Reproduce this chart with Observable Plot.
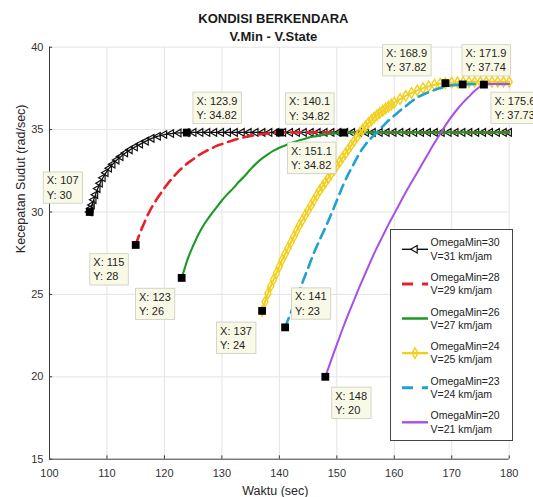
<!DOCTYPE html>
<html><head><meta charset="utf-8">
<script src="https://cdn.jsdelivr.net/npm/d3@7"></script>
<script src="https://cdn.jsdelivr.net/npm/@observablehq/plot@0.6"></script>
<style>html,body{margin:0;padding:0;background:#fff;} #chart{width:533px;height:497px;}</style>
</head><body><div id="chart"></div>
<script>
// ---------- data ----------
const xTicks = [100,110,120,130,140,150,160,170,180];
const yTicks = [15,20,25,30,35,40];
const titleLines = ["KONDISI BERKENDARA", "V.Min - V.State"];
const xLabel = "Waktu (sec)";
const yLabel = "Kecepatan Sudut (rad/sec)";
const legendLine1 = ["OmegaMin=30","OmegaMin=28","OmegaMin=26","OmegaMin=24","OmegaMin=23","OmegaMin=20"];
const legendLine2 = ["V=31 km/jam","V=29 km/jam","V=27 km/jam","V=25 km/jam","V=24 km/jam","V=21 km/jam"];

const s30x = [107,107.2,107.4,107.7,108,108.4,108.8,109.3,109.8,110.4,111,111.7,112.4,113.2,114,114.9,115.8,116.8,117.8,118.9,120,121.2,122.5,123.9,
  125.1,126.3,127.5,128.7,129.9,131.1,132.3,133.5,134.7,135.9,137.1,138.3,139.5,140.7,141.9,143.1,144.3,145.5,146.7,147.9,149.1,150.3,151.5,152.7,153.9,155.1,
  156.3,157.5,158.7,159.9,161.1,162.3,163.5,164.7,165.9,167.1,168.3,169.5,170.7,171.9,173.1,174.3,175.5,176.7,177.9,179.1,180];
const s30y = [30,30.22,30.43,30.74,31.05,31.42,31.75,32.08,32.38,32.66,32.9,33.15,33.36,33.58,33.77,33.95,34.12,34.3,34.47,34.6,34.7,34.76,34.8,34.82,
  34.83,34.83,34.83,34.83,34.83,34.83,34.83,34.83,34.83,34.83,
  34.83,34.83,34.83,34.83,34.83,34.83,34.83,34.83,34.83,34.83,
  34.83,34.83,34.83,34.83,34.83,34.83,34.83,34.83,34.83,34.83,
  34.83,34.83,34.83,34.83,34.83,34.83,34.83,34.83,34.83,34.83,
  34.83,34.83,34.83,34.83,34.83,34.83,34.83];

const s28x = [115,115.5,116,116.5,117,118,119,120,121,122,123,124,125,126,127,128,129,130,131,132,133,134,135,136,137,138,139,140.1,145,150,155,160,165,170,175,180];
const s28y = [28,28.5,28.95,29.35,29.75,30.4,30.95,31.45,31.9,32.3,32.65,32.95,33.2,33.45,33.65,33.83,34.0,34.12,34.25,34.36,34.46,34.55,34.62,34.68,34.73,34.77,34.8,34.82,34.83,34.83,34.83,34.83,34.83,34.83,34.83,34.83];

const s26x = [123,123.5,124,124.5,125,126,127,128,129,130,131,132,133,134,135,136,137,138,139,140,141,142,143,144,145,146,147,148,149,150,151.1,155,160,165,170,175,180];
const s26y = [26,26.55,27.1,27.55,27.95,28.7,29.3,29.8,30.25,30.7,31.1,31.45,31.85,32.2,32.6,32.95,33.25,33.5,33.72,33.9,34.04,34.17,34.3,34.4,34.5,34.58,34.64,34.7,34.75,34.78,34.82,34.83,34.83,34.83,34.83,34.83,34.83];

const s24x = [137,137.5,138,138.5,139,139.5,140,140.5,141,141.5,142,142.5,143,143.5,144,144.5,145,145.5,146,146.5,
  147,147.5,148,148.5,149,149.5,150,150.5,151,151.5,152,152.5,153,153.5,154,154.5,155,155.5,156,156.5,
  157,157.5,158,158.5,159,159.5,160,161,162,163,164,165,166,167,168,168.9,170,171,172,173,174,175,176,177,178,179,180];
const s24y = [24.0,24.55,25.05,25.5,25.9,26.3,26.7,27.1,27.45,27.8,28.15,28.5,28.85,29.2,29.5,29.8,30.1,30.4,30.7,31.0,
  31.3,31.55,31.8,32.05,32.3,32.55,32.8,33.05,33.3,33.55,33.8,34.05,34.3,34.55,34.8,35.0,35.2,35.4,35.57,35.73,
  35.88,36.02,36.15,36.28,36.4,36.52,36.63,36.85,37.05,37.22,37.38,37.52,37.63,37.72,37.78,37.82,37.85,37.87,37.88,37.89,37.9,37.9,37.9,37.9,37.9,37.9,37.9];

const s23x = [141,142,143,144,145,146,147,148,149,150,151,152,153,154,155,156,157,158,159,160,161,162,163,164,165,166,167,168,169,170,171,171.9,173,175,177,180];
const s23y = [23,23.9,24.8,25.7,26.6,27.5,28.3,29.05,29.85,30.7,31.55,32.3,32.95,33.6,34.1,34.5,34.85,35.2,35.55,35.85,36.15,36.42,36.7,36.95,37.12,37.27,37.4,37.52,37.62,37.69,37.72,37.74,37.76,37.77,37.77,37.77];

const s20x = [148,149,150,151,152,153,154,155,156,157,158,159,160,161,162,163,164,165,166,167,168,169,170,171,172,173,174,175,175.6,176.5,178,180];
const s20y = [20,21.0,21.95,22.9,23.8,24.65,25.5,26.3,27.1,27.85,28.55,29.25,29.9,30.55,31.2,31.8,32.4,33.0,33.6,34.2,34.75,35.3,35.8,36.25,36.65,37.0,37.35,37.62,37.73,37.76,37.77,37.77];

const tipX = [107,115,123,137,141,148,123.9,140.1,151.1,168.9,171.9,175.6];
const tipY = [30,28,26,24,23,20,34.82,34.82,34.82,37.82,37.74,37.73];

// ---------- styling / layout ----------
const colors = ["#111111","#e4222b","#1a9a24","#f2cf1d","#21a1cb","#a94ee6"];
const widths = [1.3,2.6,2.1,2,2.6,2];
const dashes = [null,"10,6",null,null,"10,6",null];
const tipOffsets = [[-43,-25],[-42.4,23.8],[-42.7,25.4],[-42,26.3],[9.8,-24.4],[9.9,25.4],[9.6,-25.4],[9.2,-24.6],[-52.2,24.6],[-59.3,-23.4],[2.8,-24.7],[10.5,22.6]];
const FONT = "'Liberation Sans', Arial, Helvetica, sans-serif";

const rows = (xs, ys) => xs.map((x, i) => ({x, y: ys[i]}));
const series = [rows(s30x,s30y), rows(s28x,s28y), rows(s26x,s26y), rows(s24x,s24y), rows(s23x,s23y), rows(s20x,s20y)];
const tips = tipX.map((x, i) => ({x, y: tipY[i], label: `X: ${x}\nY: ${tipY[i]}`}));

const marks = [
  Plot.ruleX(xTicks.slice(1), {stroke: "#e4e4e4", strokeWidth: 1}),
  Plot.ruleY(yTicks.slice(1), {stroke: "#e4e4e4", strokeWidth: 1}),
  Plot.ruleX([xTicks[0]], {stroke: "#3a3a3a", strokeWidth: 1}),
  Plot.ruleY([yTicks[0]], {stroke: "#3a3a3a", strokeWidth: 1}),
  Plot.ruleX(xTicks, {y1: 15, y2: 15.2, stroke: "#3a3a3a"}),
  Plot.ruleY(yTicks, {x1: 100, x2: 100.55, stroke: "#3a3a3a"})
];
series.forEach((d, i) => {
  marks.push(Plot.line(d, {x: "x", y: "y", stroke: colors[i], strokeWidth: widths[i], strokeDasharray: dashes[i], curve: "monotone-x"}));
  if (i === 0) marks.push(Plot.dot(d, {x: "x", y: "y", symbol: "triangle", rotate: -90, r: 2.8, stroke: colors[0], strokeWidth: 1.2, fill: "none"}));
  if (i === 3) marks.push(Plot.dot(d, {x: "x", y: "y", symbol: "diamond", r: 3.2, stroke: colors[3], strokeWidth: 1.4, fill: "none"}));
});
marks.push(Plot.dot(tips, {x: "x", y: "y", symbol: "square", r: 4.4, fill: "#000"}));
tips.forEach((t, i) => {
  marks.push(Plot.text([t], {x: "x", y: "y", text: "label", dx: tipOffsets[i][0], dy: tipOffsets[i][1], textAnchor: "start", lineAnchor: "middle", lineHeight: 1.3, fontSize: 11, fill: "#1e1e1e", ariaDescription: "datatip"}));
});
marks.push(Plot.text([titleLines[0]], {frameAnchor: "top", text: d => d, dx: -6, dy: -28.4, fontWeight: "bold", fontSize: 13, lineAnchor: "middle", fill: "#1a1a1a"}));
marks.push(Plot.text([titleLines[1]], {frameAnchor: "top", text: d => d, dx: -6, dy: -10.7, fontWeight: "bold", fontSize: 13, lineAnchor: "middle", fill: "#1a1a1a"}));
marks.push(Plot.text([xLabel], {frameAnchor: "bottom", text: d => d, dx: -4, dy: 32, fontSize: 12.5, lineAnchor: "middle", fill: "#262626"}));
marks.push(Plot.text([yLabel], {frameAnchor: "left", text: d => d, rotate: -90, dx: -29, fontSize: 12.5, lineAnchor: "middle", fill: "#262626"}));

const chart = Plot.plot({
  width: 533, height: 497,
  marginLeft: 49, marginRight: 24.3, marginTop: 46.7, marginBottom: 38.3,
  style: {fontFamily: FONT, fontSize: "11px", color: "#333", background: "white", overflow: "visible"},
  x: {domain: [100, 180], ticks: xTicks, tickSize: 0, tickPadding: 10, label: null},
  y: {domain: [15, 40], ticks: yTicks, tickSize: 0, tickPadding: 6, label: null},
  marks
});
document.getElementById("chart").appendChild(chart);

// datatip boxes behind texts
d3.select(chart).selectAll('g[aria-description="datatip"] text').each(function() {
  const b = this.getBBox();
  const r = document.createElementNS("http://www.w3.org/2000/svg", "rect");
  r.setAttribute("x", b.x - 3.5); r.setAttribute("y", b.y - 2.5);
  r.setAttribute("width", b.width + 7.5); r.setAttribute("height", b.height + 5);
  r.setAttribute("fill", "#f9f9e7"); r.setAttribute("stroke", "#cbcbbd"); r.setAttribute("stroke-width", 0.8);
  if (this.getAttribute("transform")) r.setAttribute("transform", this.getAttribute("transform"));
  this.parentNode.insertBefore(r, this);
});

// legend
const svg = d3.select(chart);
const lg = svg.append("g").attr("font-family", FONT).attr("font-size", 10.5).attr("text-anchor", "start");
lg.append("rect").attr("x", 390.5).attr("y", 229.5).attr("width", 122).attr("height", 211)
  .attr("fill", "white").attr("stroke", "#444").attr("stroke-width", 1);
legendLine1.forEach((t, i) => {
  const y0 = 242.7 + 34.6 * i;
  const ys = y0 + 6.6;
  lg.append("line").attr("x1", 402).attr("x2", 428).attr("y1", ys).attr("y2", ys)
    .attr("stroke", colors[i]).attr("stroke-width", i === 0 ? 1.4 : widths[i] + 0.4)
    .attr("stroke-dasharray", dashes[i] ? "11,9" : null);
  if (i === 0) lg.append("path").attr("d", d3.symbol(d3.symbolTriangle, Math.PI * 2.8 * 2.8)())
    .attr("transform", `translate(415,${ys}) rotate(-90)`).attr("fill", "white").attr("stroke", colors[0]).attr("stroke-width", 1.2);
  if (i === 3) lg.append("path").attr("d", d3.symbol(d3.symbolDiamond, Math.PI * 3.2 * 3.2)())
    .attr("transform", `translate(415,${ys})`).attr("fill", "none").attr("stroke", colors[3]).attr("stroke-width", 1.4);
  lg.append("text").attr("x", 430.5).attr("y", y0).attr("dy", "0.35em").attr("fill", "#222").text(t);
  lg.append("text").attr("x", 430.5).attr("y", y0 + 13.3).attr("dy", "0.35em").attr("fill", "#222").text(legendLine2[i]);
});
</script>
</body></html>
